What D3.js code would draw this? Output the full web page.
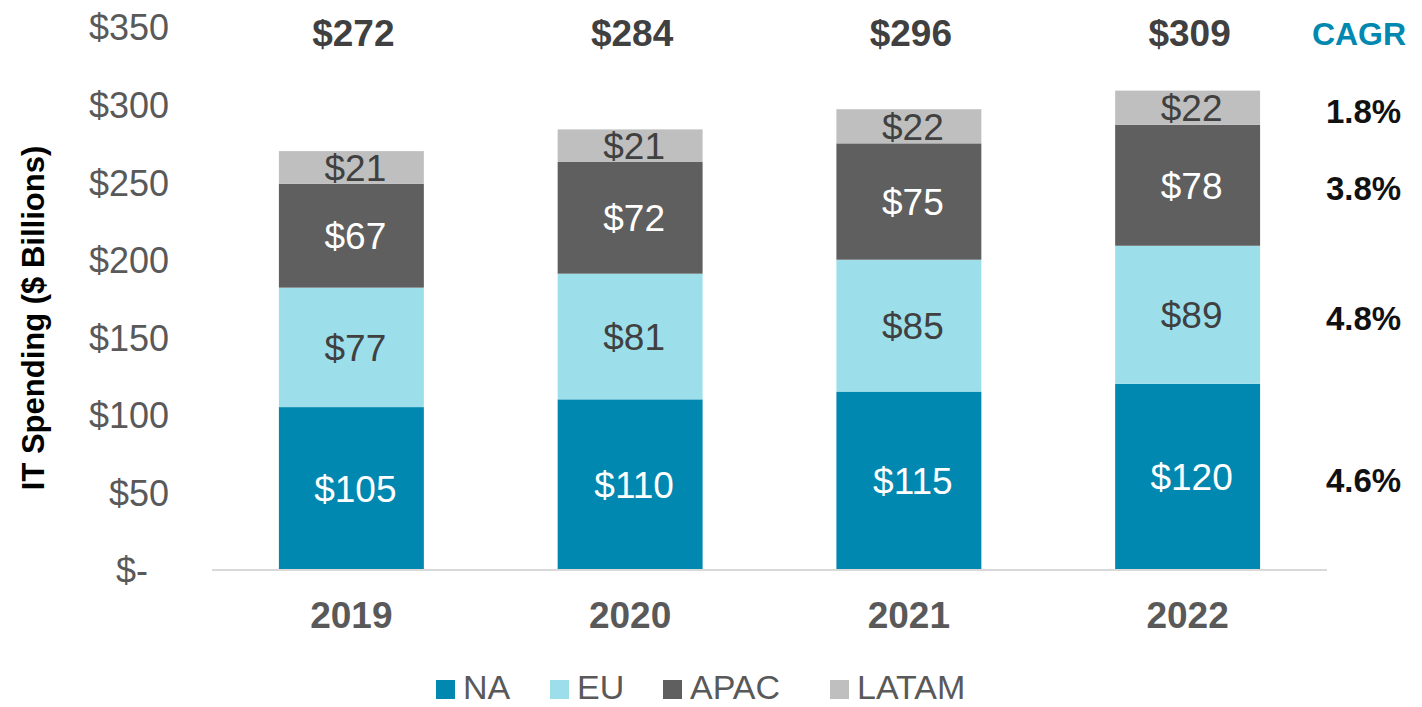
<!DOCTYPE html>
<html>
<head>
<meta charset="utf-8">
<script src="https://cdn.jsdelivr.net/npm/d3@7"></script>
<style>
  html, body { margin: 0; padding: 0; background: #fff; }
  svg { display: block; font-family: "Liberation Sans", Arial, sans-serif; }
</style>
</head>
<body>
<svg id="chart" width="1422" height="707"></svg>
<script>
const years = ["2019", "2020", "2021", "2022"];
const seriesNames = ["NA", "EU", "APAC", "LATAM"];
const naValues = [105, 110, 115, 120];
const euValues = [77, 81, 85, 89];
const apacValues = [67, 72, 75, 78];
const latamValues = [21, 21, 22, 22];
const totalLabels = [272, 284, 296, 309];
const cagrLabels = { NA: "4.6%", EU: "4.8%", APAC: "3.8%", LATAM: "1.8%" };
const yTicks = [0, 50, 100, 150, 200, 250, 300, 350];

const colors = { NA: "#0088B0", EU: "#9CDFEB", APAC: "#5F5F5F", LATAM: "#BFBFBF" };
const labelColors = { NA: "#ffffff", EU: "#404040", APAC: "#ffffff", LATAM: "#404040" };

const rows = years.map((y, i) => ({
  year: y, NA: naValues[i], EU: euValues[i], APAC: apacValues[i], LATAM: latamValues[i], total: totalLabels[i]
}));

const svg = d3.select("#chart");

const x = d3.scaleBand().domain(years).range([212, 1327]).paddingInner(0.48).paddingOuter(0.24);
const y = d3.scaleLinear().domain([0, 350]).range([570, 27]);

const stack = d3.stack().keys(seriesNames)(rows);

// bars
const layers = svg.append("g").selectAll("g").data(stack).join("g")
  .attr("fill", d => colors[d.key]);
layers.selectAll("rect").data(d => d).join("rect")
  .attr("x", d => x(d.data.year))
  .attr("width", x.bandwidth())
  .attr("y", d => y(d[1]))
  .attr("height", d => y(d[0]) - y(d[1]));

// segment labels
const segLabels = svg.append("g");
stack.forEach(layer => {
  segLabels.selectAll(null).data(layer).join("text")
    .attr("x", d => x(d.data.year) + x.bandwidth() / 2 + 4)
    .attr("y", d => y((d[0] + d[1]) / 2))
    .attr("dy", "0.36em")
    .attr("text-anchor", "middle")
    .attr("font-size", 37)
    .attr("fill", labelColors[layer.key])
    .text(d => "$" + (d[1] - d[0]));
});

// x axis line
svg.append("line")
  .attr("x1", 212).attr("x2", 1327)
  .attr("y1", y(0)).attr("y2", y(0))
  .attr("stroke", "#D9D9D9").attr("stroke-width", 2);

// y axis
const yAxis = d3.axisLeft(y).tickValues(yTicks).tickSize(0).tickPadding(0)
  .tickFormat(d => d === 0 ? "$-" : "$" + d);
const yG = svg.append("g").attr("transform", "translate(169,0)").call(yAxis);
yG.select(".domain").remove();
yG.selectAll("text")
  .attr("font-size", 36)
  .attr("font-family", "Liberation Sans, Arial, sans-serif")
  .attr("fill", "#595959")
  .attr("dx", d => d === 0 ? -21 : 0)
  .attr("dy", "0.36em");

// x axis labels
const xAxis = d3.axisBottom(x).tickSize(0).tickPadding(0);
const xG = svg.append("g").attr("transform", "translate(0,602)").call(xAxis);
xG.select(".domain").remove();
xG.selectAll("text")
  .attr("font-size", 37)
  .attr("font-weight", "bold")
  .attr("font-family", "Liberation Sans, Arial, sans-serif")
  .attr("fill", "#595959")
  .attr("dy", "0.36em")
  .attr("y", 13);

// totals
svg.append("g").selectAll("text").data(rows).join("text")
  .attr("x", d => x(d.year) + x.bandwidth() / 2 + 2)
  .attr("y", 33)
  .attr("dy", "0.36em")
  .attr("text-anchor", "middle")
  .attr("font-size", 37)
  .attr("font-weight", "bold")
  .attr("fill", "#404040")
  .text(d => "$" + d.total);

// CAGR header
svg.append("text")
  .attr("x", 1359).attr("y", 33).attr("dy", "0.36em")
  .attr("text-anchor", "middle")
  .attr("font-size", 32).attr("font-weight", "bold")
  .attr("fill", "#0088B0")
  .text("CAGR");

// CAGR values aligned with final-year segments
const last = rows.length - 1;
svg.append("g").selectAll("text").data(stack).join("text")
  .attr("x", 1326)
  .attr("y", d => y((d[last][0] + d[last][1]) / 2) + 3)
  .attr("dy", "0.36em")
  .attr("font-size", 33).attr("font-weight", "bold")
  .attr("fill", "#111111")
  .text(d => cagrLabels[d.key]);

// y axis title
svg.append("text")
  .attr("transform", "translate(33,318) rotate(-90)")
  .attr("text-anchor", "middle")
  .attr("dy", "0.36em")
  .attr("font-size", 31).attr("font-weight", "bold")
  .attr("fill", "#000")
  .text("IT Spending ($ Billions)");

// legend
const legendX = [436, 550, 663, 830];
const legend = svg.append("g").selectAll("g").data(seriesNames).join("g")
  .attr("transform", (d, i) => `translate(${legendX[i]},680)`);
legend.append("rect").attr("width", 19).attr("height", 19).attr("fill", d => colors[d]);
legend.append("text")
  .attr("x", 27).attr("y", 19)
  .attr("font-size", 34).attr("fill", "#595959")
  .text(d => d);
</script>
</body>
</html>
